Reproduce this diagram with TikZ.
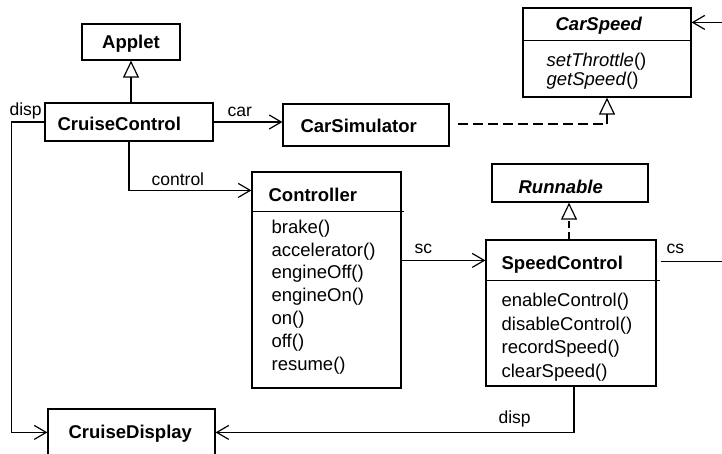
\documentclass[tikz,border=0pt]{standalone}
\usepackage{fontspec}
\setmainfont{Liberation Sans}
\usetikzlibrary{arrows.meta,calc}
\begin{document}
\begin{tikzpicture}[x=1pt,y=-1pt,line width=1.2pt,
  box/.style={draw, rectangle, inner sep=0pt},
  title/.style={anchor=base west, inner sep=0pt, font=\fontsize{18.5}{22}\selectfont\bfseries},
  ititle/.style={title, font=\fontsize{18.5}{22}\selectfont\bfseries\itshape},
  meth/.style={anchor=base west, inner sep=0pt, font=\fontsize{18.5}{22}\selectfont},
  lbl/.style={anchor=base west, inner sep=0pt, font=\fontsize{17.5}{21}\selectfont},
  assoc/.style={-{Straight Barb[length=12pt,width=14pt]}},
  inh/.style={-{Triangle[open,length=17pt,width=16pt]}},
  realz/.style={dash pattern=on 10pt off 5pt}
]
\useasboundingbox (0,0) rectangle (722,453);
\clip (0,0) rectangle (722,453);
\fill[white] (0,0) rectangle (722,453);

% class boxes
\node[box, minimum width=98pt, minimum height=36pt] (applet) at (131,42) {};
\node[box, minimum width=168pt, minimum height=38pt] (cc) at (129,122) {};
\node[box, minimum width=166pt, minimum height=42pt] (carsim) at (366,125) {};
\node[box, minimum width=168pt, minimum height=89pt] (carspeed) at (607,52.5) {};
\node[box, minimum width=149pt, minimum height=216pt] (ctrl) at (326.5,280) {};
\node[box, minimum width=156pt, minimum height=38pt] (runnable) at (570,183) {};
\node[box, minimum width=170pt, minimum height=146pt] (sc) at (571,313) {};
\node[box, minimum width=167pt, minimum height=61pt] (cd) at (131.5,439.5) {};

% compartment separators
\draw ($(carspeed.north west)+(0,33)$) -- ($(carspeed.north east)+(0,33)$);
\draw ($(ctrl.north west)+(0,40)$) -- ($(ctrl.north east)+(2,40)$);
\draw ($(sc.north west)+(0,41)$) -- ($(sc.north east)+(3,41)$);

% titles
\node[title, anchor=base] (tapplet) at (131,48) {Applet};
\node[title] (tcc) at (57,130) {CruiseControl};
\node[title] (tcarsim) at (300,132) {CarSimulator};
\node[ititle] (tcarspeed) at (555,30) {CarSpeed};
\node[title] (tctrl) at (268,201) {Controller};
\node[ititle] (trun) at (518,193) {Runnable};
\node[title] (tsc) at (501,269) {SpeedControl};
\node[title] (tcd) at (68,438) {CruiseDisplay};

% methods
\node[meth] (m1) at (546,66) {\textit{setThrottle}()};
\node[meth] (m2) at (546,85) {\textit{getSpeed}()};

\node[meth] (c1) at (271,233) {brake()};
\node[meth] (c2) at (271,256) {accelerator()};
\node[meth] (c3) at (271,278) {engineOff()};
\node[meth] (c4) at (271,301) {engineOn()};
\node[meth] (c5) at (271,324) {on()};
\node[meth] (c6) at (271,347) {off()};
\node[meth] (c7) at (271,370) {resume()};

\node[meth] (s1) at (501,306) {enableControl()};
\node[meth] (s2) at (501,330) {disableControl()};
\node[meth] (s3) at (501,353) {recordSpeed()};
\node[meth] (s4) at (501,377) {clearSpeed()};

% connector labels
\node[lbl] (ldisp1) at (9,115) {disp};
\node[lbl] (lcar) at (227,116) {car};
\node[lbl] (lcontrol) at (151,185) {control};
\node[lbl] (lsc) at (414,253) {sc};
\node[lbl] (lcs) at (666,253) {cs};
\node[lbl] (ldisp2) at (498,423) {disp};

% helper coordinates
\coordinate (ctrlin) at ($(ctrl.north west)+(0,19)$);
\coordinate (scout) at ($(ctrl.north east)+(0,89)$);
\coordinate (csout) at ($(sc.north east)+(4,22)$);
\coordinate (csin) at ($(carspeed.north east)+(0,15)$);
\coordinate (cdR) at ($(cd.north east)+(0,24)$);
\coordinate (cdL) at ($(cd.north west)+(0,24)$);
\coordinate (simout) at ($(carsim.east)+(8,-1)$);
\coordinate (realcorner) at (simout -| carspeed.south);
\coordinate (realup) at ($(realcorner)+(0,-10)$);

% inheritance
\draw[inh] (cc.north -| applet.south) -- (applet.south);
% realization CarSimulator -> CarSpeed
\draw[realz] (simout) -- (realcorner);
\draw[inh] (realcorner) -- (carspeed.south);
% realization SpeedControl -> Runnable
\draw[inh, dash pattern=on 7pt off 4pt] ($(sc.north)+(-2,0)$) -- ($(runnable.south)+(-1,0)$);

% associations
\draw[assoc] (cc.east) -- (cc.east -| carsim.west);
\draw[assoc] (cc.south) |- (ctrlin);
\draw[assoc] (scout) -- (scout -| sc.west);
\draw[assoc] (csout) -- ++(80,0) |- (csin);
\draw[assoc] ($(sc.south)+(3,0)$) |- (cdR);
\draw[assoc] (cc.west) -- ++(-33,0) |- (cdL);
\end{tikzpicture}
\end{document}
